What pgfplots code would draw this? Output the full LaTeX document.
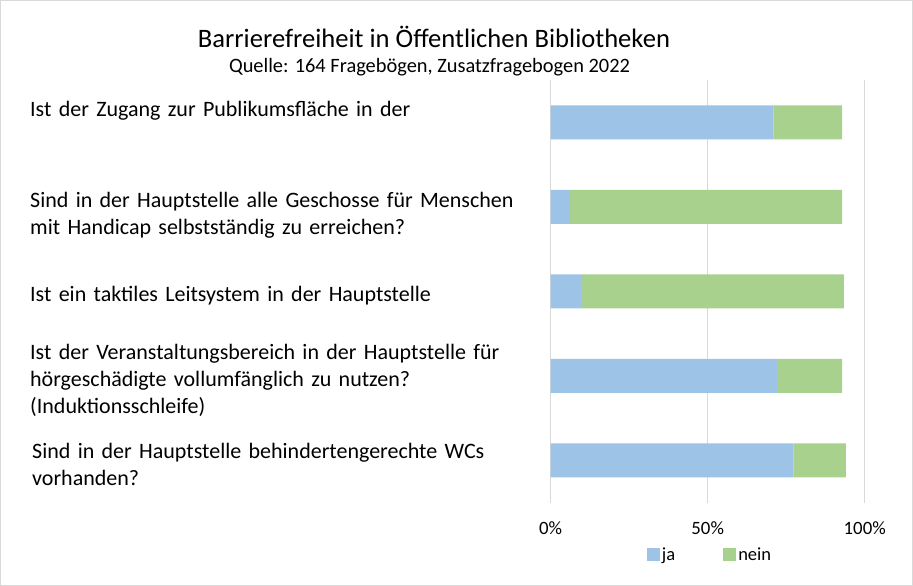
\documentclass[border=0pt]{standalone}
\usepackage{fontspec}
\setmainfont{Carlito}
\usepackage{pgfplots}
\pgfplotsset{compat=1.18}
\definecolor{ja}{HTML}{9DC3E6}
\definecolor{nein}{HTML}{A9D18E}
\definecolor{gridc}{HTML}{D9D9D9}
\begin{document}
\begin{tikzpicture}[x=1pt,y=1pt]
\useasboundingbox (0,0) rectangle (913,586);
\draw[gridc, line width=1pt] (0.5,0.5) rectangle (912.5,585.5);
\node[font=\fontsize{26.6}{30}\selectfont] at (434,549) {Barrierefreiheit in Öffentlichen Bibliotheken};
\node[font=\fontsize{20.4}{24}\selectfont] at (429.5,519) {Quelle: 164 Fragebögen, Zusatzfragebogen 2022};
\begin{axis}[
  at={(550.7pt,83.3pt)}, anchor=south west,
  scale only axis, width=314pt, height=422.5pt,
  xbar stacked, bar width=34pt,
  xmin=0, xmax=100, ymin=-0.5, ymax=4.5, y dir=reverse,
  ytick={0,1,2,3,4},
  yticklabels={
    {Ist der Zugang zur Publikumsfläche in der\\\strut},
    {\rule{0pt}{24pt}Sind in der Hauptstelle alle Geschosse für Menschen\\mit Handicap selbstständig zu erreichen?},
    {Ist ein taktiles Leitsystem in der Hauptstelle},
    {Ist der Veranstaltungsbereich in der Hauptstelle für\\hörgeschädigte vollumfänglich zu nutzen?\\(Induktionsschleife)},
    {\hspace*{2pt}Sind in der Hauptstelle behindertengerechte WCs\\\hspace*{2pt}vorhanden?}},
  yticklabel style={anchor=west, xshift=-520.7pt, yshift=-4pt, align=left, text width=520pt, inner sep=0pt,
    font=\fontsize{22}{27}\selectfont},
  xtick={0,50,100}, xticklabels={0\%,50\%,100\%},
  xticklabel style={anchor=center, yshift=-25pt, font=\fontsize{18.8}{22}\selectfont},
  axis line style={draw=none}, major tick length=0pt,
  xmajorgrids, grid style={gridc, line width=1.3pt},
  legend image code/.code={\draw[#1,draw=none] (0pt,-6.5pt) rectangle (13pt,6.5pt);},
  legend style={at={(0.5076,-0.1227)}, anchor=center, draw=none, fill=none,
    legend columns=2, font=\fontsize{18.5}{22}\selectfont,
    /tikz/every even column/.append style={column sep=46pt}},
  legend cell align=left,
]
\addplot[fill=ja, draw=none] coordinates {(70.9,0) (6.1,1) (10.0,2) (72.1,3) (77.3,4)};
\addplot[fill=nein, draw=none] coordinates {(21.9,0) (86.7,1) (83.4,2) (20.7,3) (16.7,4)};
\legend{ja,nein}
\end{axis}
\end{tikzpicture}
\end{document}
